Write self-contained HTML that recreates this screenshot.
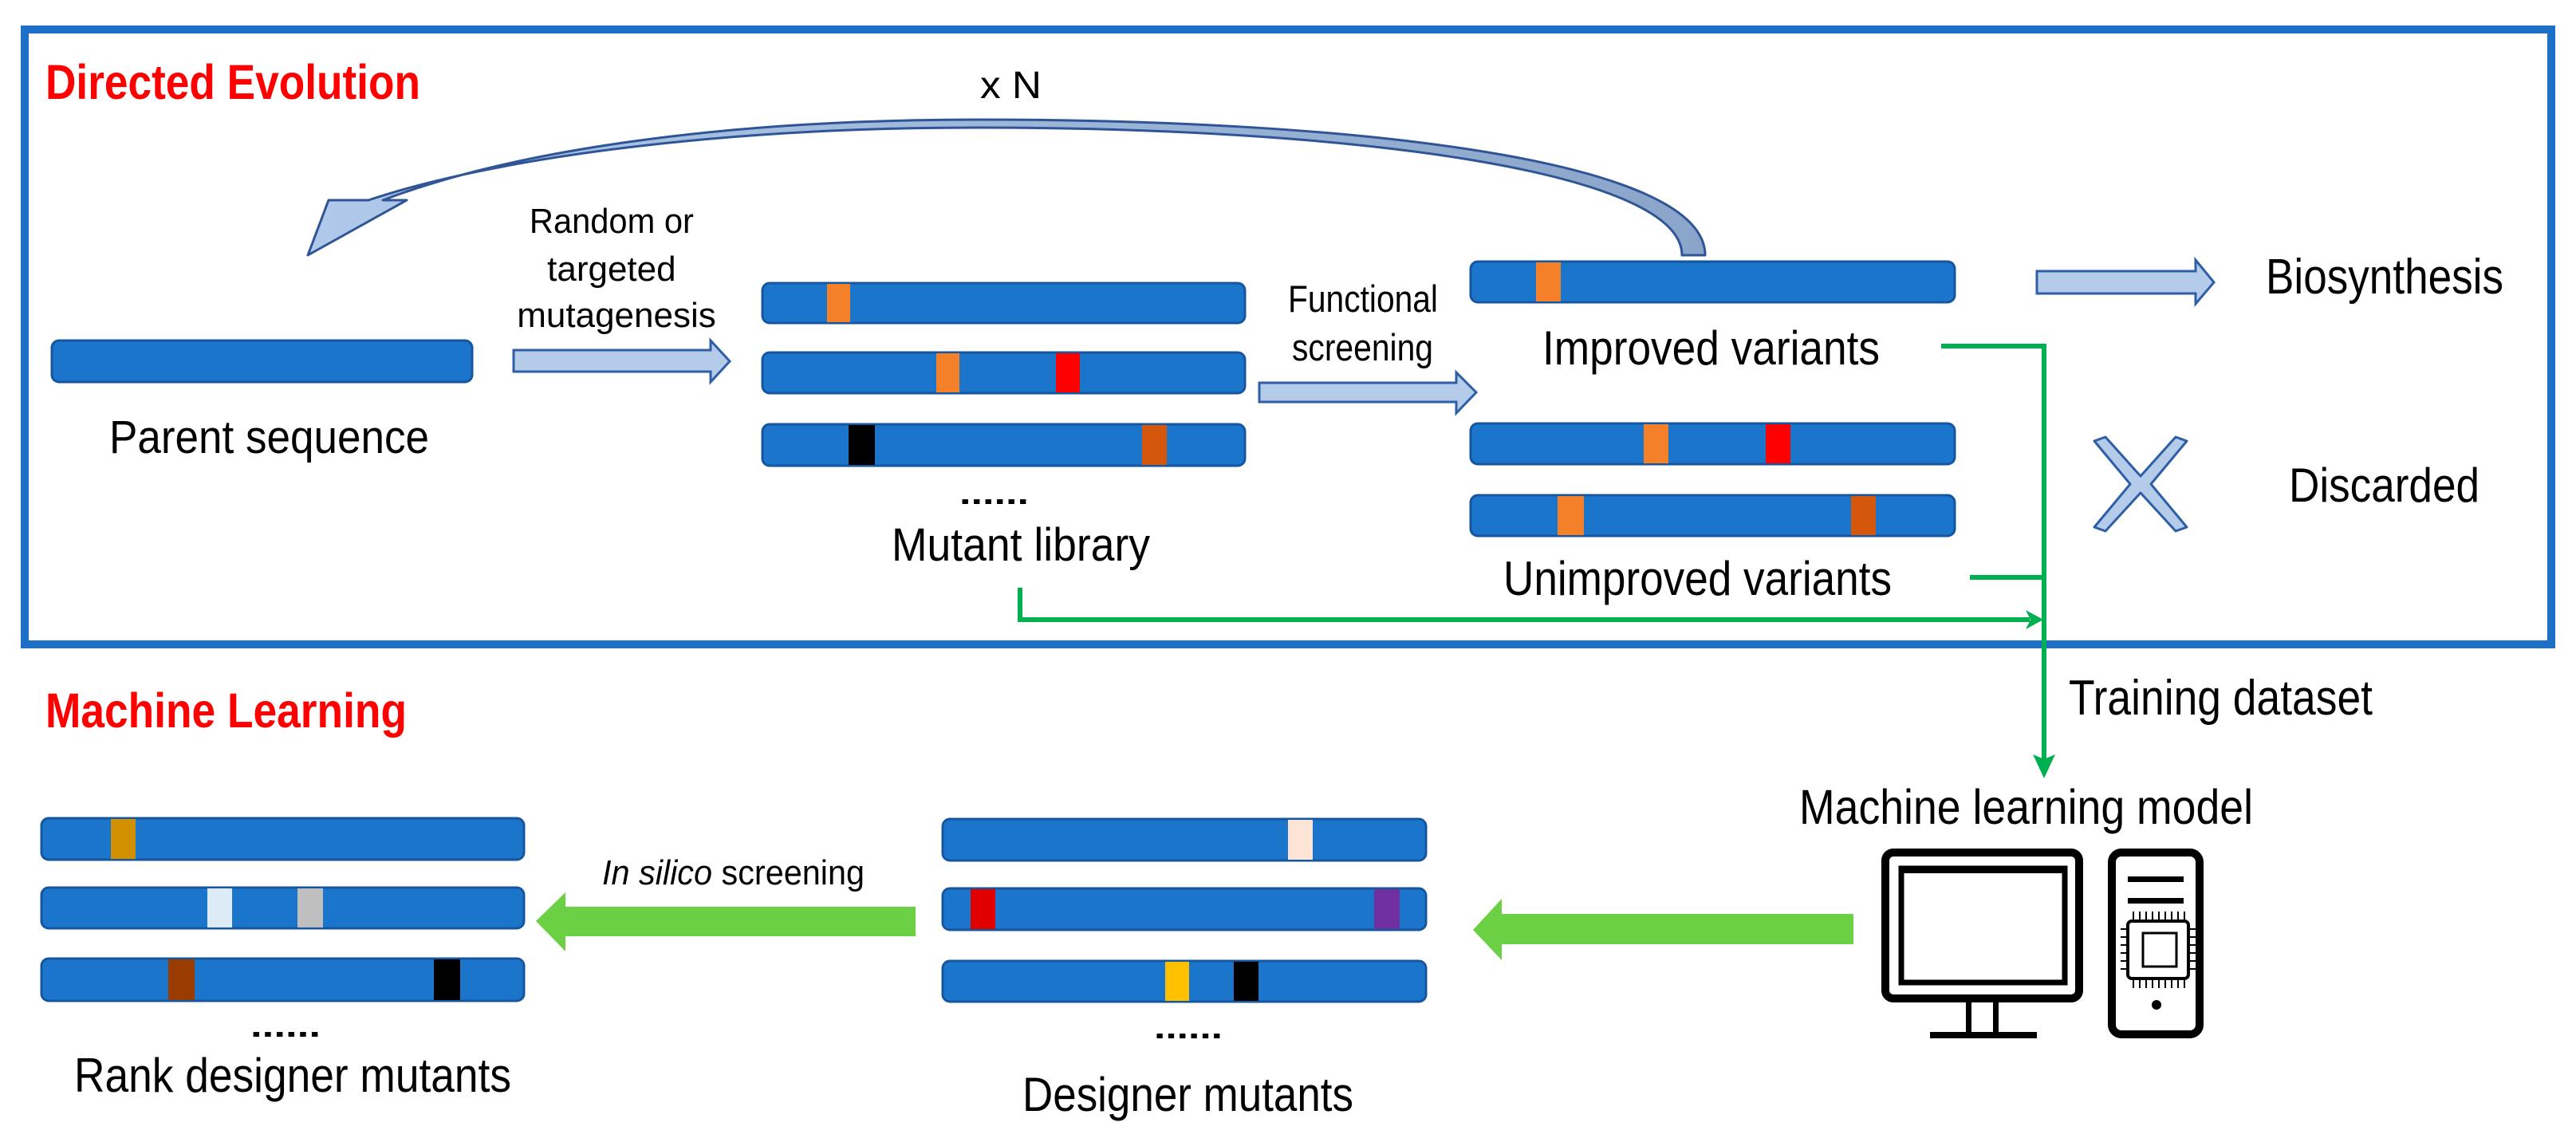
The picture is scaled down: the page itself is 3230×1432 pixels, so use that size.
<!DOCTYPE html>
<html><head><meta charset="utf-8"><style>
html,body{margin:0;padding:0;background:#fff;}
svg{display:block;}
text{font-family:"Liberation Sans",Arial,sans-serif;fill:#000;}
</style></head><body>
<svg width="3230" height="1432" viewBox="0 0 3230 1432" xmlns="http://www.w3.org/2000/svg">
<defs>
<linearGradient id="cg" x1="0" y1="0" x2="1" y2="0">
<stop offset="0" stop-color="#b0c9ea"/><stop offset="1" stop-color="#8aa5c9"/>
</linearGradient>
</defs>
<!-- frame -->
<rect x="31" y="37" width="3168" height="771" fill="none" stroke="#1d6fc8" stroke-width="10"/>

<text x="57" y="124" font-size="61" font-weight="bold" style="fill:#f00" textLength="470" lengthAdjust="spacingAndGlyphs">Directed Evolution</text>
<text x="1229" y="123" font-size="48" textLength="77" lengthAdjust="spacingAndGlyphs">x N</text>

<!-- curved arrow -->
<path d="M2109,320 C2109,215 1700,160 1226,160 C900,160 620,198 462,251 L412,251 L386,320 L510,251 L480,251 C640,190 900,150 1226,150 C1700,150 2138,200 2138,320 Z" fill="url(#cg)" stroke="#2f5597" stroke-width="3" stroke-linejoin="round"/>

<text font-size="44" text-anchor="middle">
<tspan x="773" y="292" textLength="206" lengthAdjust="spacingAndGlyphs">Random or</tspan>
<tspan x="773" y="352">targeted</tspan>
<tspan x="773" y="410">mutagenesis</tspan>
</text>

<!-- parent -->
<rect x="65" y="427" width="527" height="52" rx="9" fill="#1b75cb" stroke="#15569f" stroke-width="3"/>
<text x="137" y="568" font-size="58" textLength="401" lengthAdjust="spacingAndGlyphs">Parent sequence</text>

<!-- block arrows -->
<path d="M644,439 L891,439 L891,427 L915,453 L891,479 L891,466 L644,466 Z" fill="#b4cbe9" stroke="#2e5fa6" stroke-width="3"/>
<path d="M1579,480 L1826,480 L1826,467 L1851,492 L1826,518 L1826,504 L1579,504 Z" fill="#b4cbe9" stroke="#2e5fa6" stroke-width="3"/>
<path d="M2554,340 L2753,340 L2753,326 L2776,354 L2753,381 L2753,368 L2554,368 Z" fill="#b4cbe9" stroke="#2e5fa6" stroke-width="3"/>

<!-- mutant library -->
<g stroke="#15569f" stroke-width="3">
<rect x="956" y="355" width="605" height="50" rx="9" fill="#1b75cb"/>
<rect x="956" y="442" width="605" height="51" rx="9" fill="#1b75cb"/>
<rect x="956" y="532" width="605" height="52" rx="9" fill="#1b75cb"/>
</g>
<rect x="1037" y="356" width="29" height="48" fill="#f5802a"/>
<rect x="1174" y="443" width="29" height="49" fill="#f5802a"/>
<rect x="1324" y="443" width="30" height="49" fill="#ff0000"/>
<rect x="1064" y="533" width="33" height="50" fill="#000"/>
<rect x="1432" y="533" width="31" height="50" fill="#d4570c"/>
<text x="1203" y="632" font-size="40" font-weight="bold" textLength="87" lengthAdjust="spacingAndGlyphs">......</text>
<text x="1118" y="703" font-size="58" textLength="324" lengthAdjust="spacingAndGlyphs">Mutant library</text>

<text x="1615" y="391" font-size="47" textLength="188" lengthAdjust="spacingAndGlyphs">Functional</text>
<text x="1620" y="452" font-size="47" textLength="177" lengthAdjust="spacingAndGlyphs">screening</text>

<!-- improved / unimproved -->
<g stroke="#15569f" stroke-width="3">
<rect x="1844" y="328" width="607" height="51" rx="9" fill="#1b75cb"/>
<rect x="1844" y="531" width="607" height="51" rx="9" fill="#1b75cb"/>
<rect x="1844" y="621" width="607" height="51" rx="9" fill="#1b75cb"/>
</g>
<rect x="1926" y="329" width="31" height="49" fill="#f5802a"/>
<rect x="2061" y="532" width="31" height="49" fill="#f5802a"/>
<rect x="2214" y="532" width="31" height="49" fill="#ff0000"/>
<rect x="1953" y="622" width="33" height="49" fill="#f5802a"/>
<rect x="2321" y="622" width="31" height="49" fill="#d4570c"/>
<text x="1934" y="457" font-size="60" textLength="423" lengthAdjust="spacingAndGlyphs">Improved variants</text>
<text x="1885" y="746" font-size="60" textLength="487" lengthAdjust="spacingAndGlyphs">Unimproved variants</text>

<text x="2841" y="368" font-size="62" textLength="298" lengthAdjust="spacingAndGlyphs">Biosynthesis</text>
<text x="2870" y="629" font-size="60" textLength="239" lengthAdjust="spacingAndGlyphs">Discarded</text>

<!-- X -->
<path d="M2626,553 L2640,548 L2684,597 L2728,548 L2742,553 L2697,607 L2742,661 L2728,666 L2684,618 L2640,666 L2626,661 L2671,607 Z" fill="#b4cbe9" stroke="#2e5fa6" stroke-width="3" stroke-linejoin="round"/>

<!-- green connectors -->
<g stroke="#00b050" stroke-width="6" fill="none">
<polyline points="2434,434 2563,434 2563,952"/>
<line x1="2470" y1="724" x2="2563" y2="724"/>
<polyline points="1279,737 1279,777 2545,777"/>
</g>
<path d="M2540,765 L2562,777 L2540,789 L2546,777 Z" fill="#00b050"/>
<path d="M2549,946 L2563,976 L2577,946 L2563,952 Z" fill="#00b050"/>

<text x="2594" y="896" font-size="62" textLength="381" lengthAdjust="spacingAndGlyphs">Training dataset</text>
<text x="2256" y="1033" font-size="61" textLength="569" lengthAdjust="spacingAndGlyphs">Machine learning model</text>

<!-- computer -->
<rect x="2364" y="1069" width="243" height="183" rx="10" fill="none" stroke="#000" stroke-width="10"/>
<rect x="2384" y="1089" width="205" height="143" fill="none" stroke="#000" stroke-width="7"/>
<rect x="2384" y="1087" width="205" height="8" fill="#000"/>
<rect x="2465" y="1257" width="7" height="38" fill="#000"/>
<rect x="2499" y="1257" width="7" height="38" fill="#000"/>
<rect x="2420" y="1294" width="134" height="8" fill="#000"/>
<rect x="2648" y="1069" width="110" height="228" rx="12" fill="none" stroke="#000" stroke-width="10"/>
<rect x="2668" y="1099" width="70" height="7" fill="#000"/>
<rect x="2668" y="1126" width="70" height="7" fill="#000"/>
<rect x="2668" y="1155" width="76" height="72" rx="5" fill="none" stroke="#000" stroke-width="4"/>
<rect x="2687" y="1170" width="42" height="42" fill="none" stroke="#000" stroke-width="3"/>
<g stroke="#000" stroke-width="2">
<line x1="2675" y1="1143" x2="2675" y2="1155"/><line x1="2683" y1="1143" x2="2683" y2="1155"/><line x1="2691" y1="1143" x2="2691" y2="1155"/><line x1="2699" y1="1143" x2="2699" y2="1155"/><line x1="2707" y1="1143" x2="2707" y2="1155"/><line x1="2715" y1="1143" x2="2715" y2="1155"/><line x1="2723" y1="1143" x2="2723" y2="1155"/><line x1="2731" y1="1143" x2="2731" y2="1155"/><line x1="2739" y1="1143" x2="2739" y2="1155"/>
<line x1="2675" y1="1227" x2="2675" y2="1239"/><line x1="2683" y1="1227" x2="2683" y2="1239"/><line x1="2691" y1="1227" x2="2691" y2="1239"/><line x1="2699" y1="1227" x2="2699" y2="1239"/><line x1="2707" y1="1227" x2="2707" y2="1239"/><line x1="2715" y1="1227" x2="2715" y2="1239"/><line x1="2723" y1="1227" x2="2723" y2="1239"/><line x1="2731" y1="1227" x2="2731" y2="1239"/><line x1="2739" y1="1227" x2="2739" y2="1239"/>
<line x1="2659" y1="1165" x2="2668" y2="1165"/><line x1="2659" y1="1175" x2="2668" y2="1175"/><line x1="2659" y1="1185" x2="2668" y2="1185"/><line x1="2659" y1="1195" x2="2668" y2="1195"/><line x1="2659" y1="1205" x2="2668" y2="1205"/><line x1="2659" y1="1215" x2="2668" y2="1215"/>
<line x1="2744" y1="1165" x2="2753" y2="1165"/><line x1="2744" y1="1175" x2="2753" y2="1175"/><line x1="2744" y1="1185" x2="2753" y2="1185"/><line x1="2744" y1="1195" x2="2753" y2="1195"/><line x1="2744" y1="1205" x2="2753" y2="1205"/><line x1="2744" y1="1215" x2="2753" y2="1215"/>
</g>
<circle cx="2704" cy="1260" r="6" fill="#000"/>

<!-- ML section -->
<text x="57" y="912" font-size="61" font-weight="bold" style="fill:#f00" textLength="453" lengthAdjust="spacingAndGlyphs">Machine Learning</text>

<path d="M2324,1146 L2324,1184 L1883,1184 L1883,1204 L1847,1166 L1883,1127 L1883,1146 Z" fill="#6bd044"/>
<path d="M1148,1137 L1148,1174 L709,1174 L709,1193 L672,1155 L709,1119 L709,1137 Z" fill="#6bd044"/>
<text x="755" y="1109" font-size="44" font-style="italic" textLength="329" lengthAdjust="spacingAndGlyphs">In silico<tspan font-style="normal"> screening</tspan></text>

<g stroke="#15569f" stroke-width="3">
<rect x="52" y="1026" width="605" height="52" rx="9" fill="#1b75cb"/>
<rect x="52" y="1113" width="605" height="51" rx="9" fill="#1b75cb"/>
<rect x="52" y="1202" width="605" height="53" rx="9" fill="#1b75cb"/>
<rect x="1182" y="1027" width="606" height="52" rx="9" fill="#1b75cb"/>
<rect x="1182" y="1114" width="606" height="52" rx="9" fill="#1b75cb"/>
<rect x="1182" y="1205" width="606" height="51" rx="9" fill="#1b75cb"/>
</g>
<rect x="139" y="1027" width="31" height="50" fill="#d19000"/>
<rect x="260" y="1114" width="31" height="49" fill="#ddebf7"/>
<rect x="373" y="1114" width="32" height="49" fill="#bfbfbf"/>
<rect x="211" y="1203" width="33" height="51" fill="#9a3c00"/>
<rect x="544" y="1203" width="33" height="51" fill="#000"/>
<rect x="1615" y="1028" width="31" height="50" fill="#fce4d6"/>
<rect x="1217" y="1115" width="31" height="50" fill="#e00000"/>
<rect x="1723" y="1115" width="32" height="50" fill="#7030a0"/>
<rect x="1461" y="1206" width="30" height="49" fill="#ffc000"/>
<rect x="1547" y="1206" width="31" height="49" fill="#000"/>

<text x="314" y="1300" font-size="40" font-weight="bold" textLength="88" lengthAdjust="spacingAndGlyphs">......</text>
<text x="1447" y="1302" font-size="40" font-weight="bold" textLength="86" lengthAdjust="spacingAndGlyphs">......</text>
<text x="93" y="1369" font-size="60" textLength="548" lengthAdjust="spacingAndGlyphs">Rank designer mutants</text>
<text x="1282" y="1393" font-size="60" textLength="415" lengthAdjust="spacingAndGlyphs">Designer mutants</text>
</svg>
</body></html>
